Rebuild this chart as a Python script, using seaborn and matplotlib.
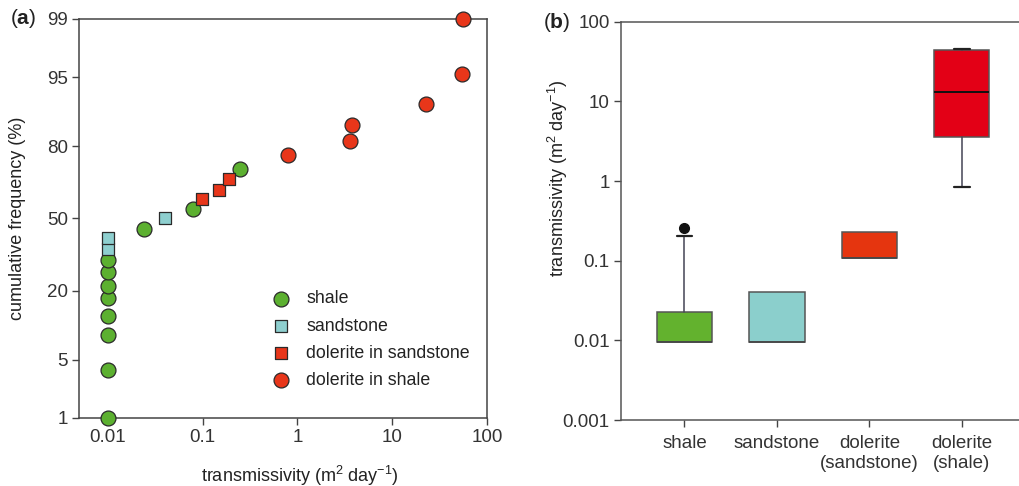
import numpy as np
import pandas as pd
import matplotlib
matplotlib.use("Agg")
import matplotlib.pyplot as plt
import seaborn as sns
from statistics import NormalDist

# panel (a): cumulative frequency of transmissivity
shale_T = [0.01, 0.01, 0.01, 0.01, 0.01, 0.01, 0.01, 0.01, 0.0238, 0.079, 0.249]
shale_F = [1.0, 3.9, 8.8, 12.8, 17.7, 21.7, 26.5, 31.6, 45.2, 54.3, 72.0]
sandstone_T = [0.01, 0.01, 0.04]
sandstone_F = [36.2, 40.9, 50.0]
dol_sand_T = [0.098, 0.147, 0.188]
dol_sand_F = [58.8, 62.8, 67.7]
dol_shale_T = [0.80, 3.55, 3.76, 22.8, 54.6, 56.0]
dol_shale_F = [77.0, 81.8, 86.2, 90.9, 95.4, 99.0]

groups = ["shale", "sandstone", "dolerite in sandstone", "dolerite in shale"]
group_T = [shale_T, sandstone_T, dol_sand_T, dol_shale_T]
group_F = [shale_F, sandstone_F, dol_sand_F, dol_shale_F]
group_colors = ["#5cb030", "#8ecfcf", "#e8361a", "#e8361a"]
group_markers = ["o", "s", "s", "o"]
group_sizes = [115, 80, 80, 115]

prob_ticks = [1, 5, 20, 50, 80, 95, 99]
x_ticks_a = [0.01, 0.1, 1, 10, 100]
x_labels_a = ["0.01", "0.1", "1", "10", "100"]

# panel (b): box plot summaries
box_names = ["shale", "sandstone", "dolerite\n(sandstone)", "dolerite\n(shale)"]
box_q1 = [0.0095, 0.0095, 0.107, 3.55]
box_med = [0.0095, 0.0095, 0.107, 13.0]
box_q3 = [0.023, 0.04, 0.23, 44.7]
box_lo = [0.0095, 0.0095, 0.107, 0.83]
box_hi = [0.205, 0.04, 0.23, 46.0]
box_fliers = [[0.254], [], [], []]
box_colors = ["#63b22e", "#8bcfcc", "#e5350f", "#e30016"]
y_ticks_b = [0.001, 0.01, 0.1, 1, 10, 100]
y_labels_b = ["0.001", "0.01", "0.1", "1", "10", "100"]

sns.set_style("ticks")
plt.rcParams["font.family"] = ["Liberation Sans", "DejaVu Sans"]
plt.rcParams["mathtext.fontset"] = "custom"
plt.rcParams["mathtext.rm"] = "Liberation Sans"
plt.rcParams["mathtext.bf"] = "Liberation Sans:bold"
plt.rcParams["text.color"] = "#222222"
plt.rcParams["axes.labelcolor"] = "#222222"
plt.rcParams["xtick.color"] = "#444444"
plt.rcParams["ytick.color"] = "#444444"
plt.rcParams["xtick.labelcolor"] = "#333333"
plt.rcParams["ytick.labelcolor"] = "#333333"

fig = plt.figure(figsize=(10.19, 4.86), dpi=100)
ax1 = fig.add_axes([79 / 1019, 68 / 486, 408 / 1019, 399 / 486])
ax2 = fig.add_axes([620.7 / 1019, 66 / 486, 0.40, 398.3 / 486])

# normal probability scale
_nd = NormalDist()
_ppf = np.vectorize(_nd.inv_cdf, otypes=[float])
_cdf = np.vectorize(_nd.cdf, otypes=[float])


def fwd(p):
    p = np.clip(np.asarray(p, dtype=float), 1e-6, 100 - 1e-6)
    return _ppf(p / 100.0)


def inv(z):
    return _cdf(np.asarray(z, dtype=float)) * 100.0


for name, T, F, c, m, s in zip(groups, group_T, group_F, group_colors, group_markers, group_sizes):
    df = pd.DataFrame({"T": T, "F": F})
    sns.scatterplot(data=df, x="T", y="F", ax=ax1, color=c, marker=m, s=s,
                    edgecolor="#2a2a2a", linewidth=0.9, label=name, clip_on=False, zorder=3)

ax1.set_xscale("log")
ax1.set_yscale("function", functions=(fwd, inv))
ax1.set_xlim(0.00495, 100)
ax1.set_ylim(1, 99)
ax1.set_xticks(x_ticks_a, x_labels_a)
ax1.set_yticks(prob_ticks, [str(t) for t in prob_ticks])
ax1.xaxis.set_minor_locator(matplotlib.ticker.NullLocator())
ax1.yaxis.set_minor_locator(matplotlib.ticker.NullLocator())
ax1.tick_params(direction="out", length=5, width=1, labelsize=13.5, pad=3)
for sp in ax1.spines.values():
    sp.set_color("#444444")
    sp.set_linewidth(1.1)
ax1.set_xlabel(r"transmissivity (m$^2$ day$^{-1}$)", fontsize=13)
ax1.xaxis.set_label_coords(0.542, -0.115)
ax1.set_ylabel("cumulative frequency (%)", fontsize=13)
ax1.yaxis.set_label_coords(-0.13, 0.5)
ax1.legend(loc="upper left", bbox_to_anchor=(0.435, 0.3375), frameon=False, fontsize=12.8,
           handletextpad=0.4, labelspacing=0.57, borderaxespad=0)

# box plots
stats = []
for nm, q1, med, q3, lo, hi, fl in zip(box_names, box_q1, box_med, box_q3, box_lo, box_hi, box_fliers):
    stats.append({"label": nm, "q1": q1, "med": med, "q3": q3, "whislo": lo, "whishi": hi, "fliers": fl})
bp = ax2.bxp(stats, positions=range(len(stats)), widths=0.6, capwidths=0.17, patch_artist=True,
             boxprops=dict(edgecolor="#555555", linewidth=1.1),
             medianprops=dict(color="#111111", linewidth=1.4),
             whiskerprops=dict(color="#444455", linewidth=1.1),
             capprops=dict(color="#222222", linewidth=1.6),
             flierprops=dict(marker="o", markerfacecolor="#111111", markeredgecolor="#111111",
                             markersize=7))
for patch, c in zip(bp["boxes"], box_colors):
    patch.set_facecolor(c)
# no caps where the whisker ends on the box edge
for i in range(len(stats)):
    if box_lo[i] == box_q1[i]:
        bp["caps"][2 * i].set_visible(False)
    if box_hi[i] == box_q3[i]:
        bp["caps"][2 * i + 1].set_visible(False)
    if box_med[i] == box_q1[i]:
        bp["medians"][i].set_color("#444444")
        bp["medians"][i].set_linewidth(1.2)
ax2.set_yscale("log")
ax2.set_ylim(0.001, 100)
ax2.set_xlim(-0.69, 3.72)
ax2.set_yticks(y_ticks_b, y_labels_b)
ax2.yaxis.set_minor_locator(matplotlib.ticker.NullLocator())
ax2.tick_params(direction="out", length=5, width=1, labelsize=13.5, pad=3)
ax2.tick_params(axis="x", pad=6)
ax2.spines["right"].set_visible(False)
for sp in ax2.spines.values():
    sp.set_color("#555555")
    sp.set_linewidth(1.1)
ax2.set_ylabel(r"transmissivity (m$^2$ day$^{-1}$)", fontsize=13)
ax2.yaxis.set_label_coords(-0.124, 0.607)

fig.text(10 / 1019, 1 - 19 / 486, r"($\mathbf{a}$)", fontsize=15, va="center")
fig.text(543 / 1019, 1 - 22 / 486, r"($\mathbf{b}$)", fontsize=15, va="center")

fig.savefig("out.png", dpi=100)
